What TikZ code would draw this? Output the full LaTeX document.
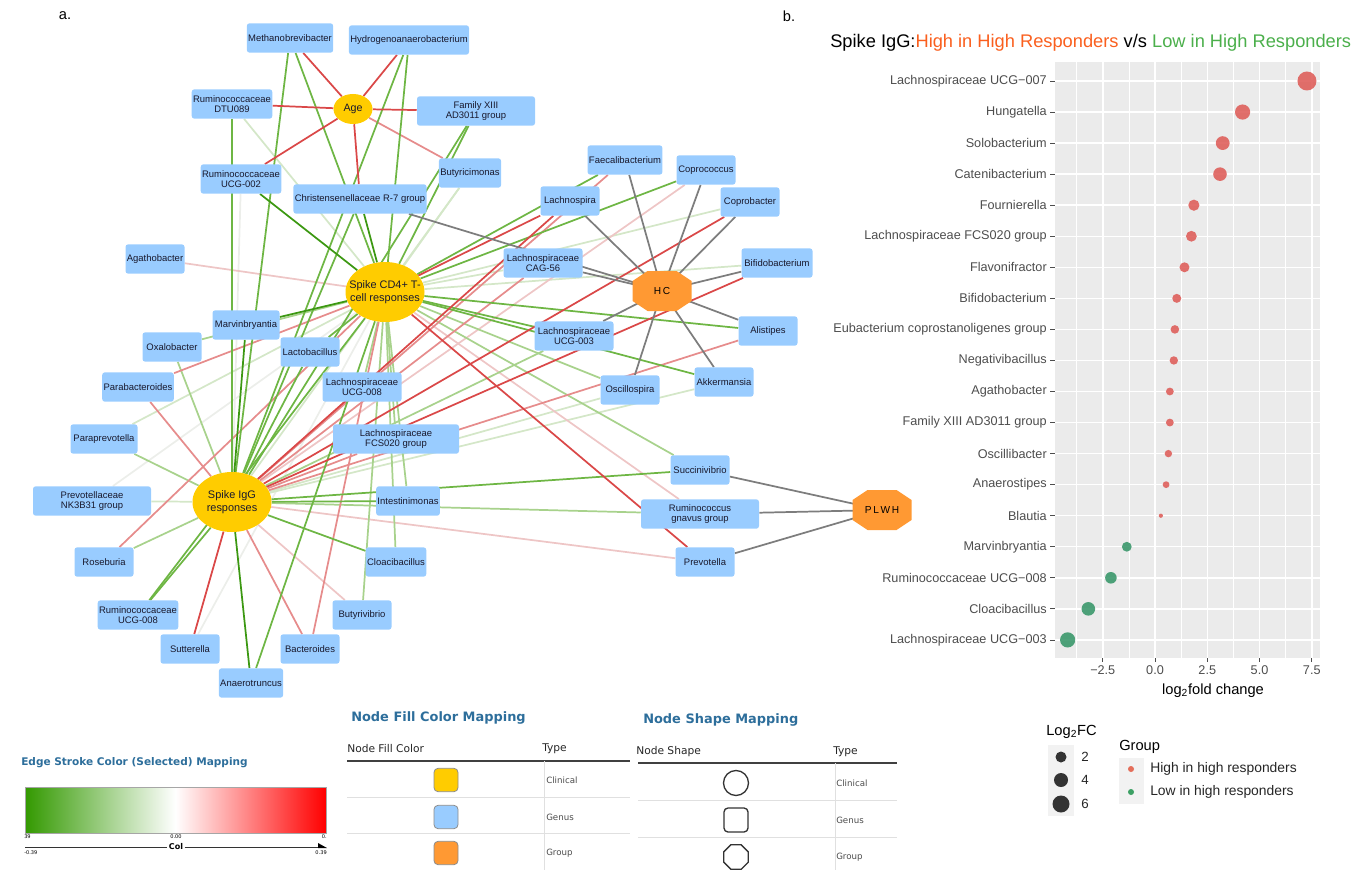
\documentclass[tikz,border=0pt]{standalone}
\usepackage{fontspec}
\setmainfont{Liberation Sans}
\newfontfamily\dvs{DejaVu Sans}
\usetikzlibrary{shapes.geometric,backgrounds}

\definecolor{genusblue}{RGB}{153,204,255}
\definecolor{clinyel}{RGB}{255,204,0}
\definecolor{grporange}{RGB}{255,153,51}
\definecolor{cg3}{RGB}{60,152,18}
\definecolor{cg2}{RGB}{110,182,68}
\definecolor{cg1}{RGB}{168,210,140}
\definecolor{cg0}{RGB}{212,231,200}
\definecolor{cw}{RGB}{236,238,234}
\definecolor{cr0}{RGB}{238,198,198}
\definecolor{cr1}{RGB}{230,140,140}
\definecolor{cr2}{RGB}{218,72,72}
\definecolor{cgray}{RGB}{125,125,125}
\definecolor{labtext}{RGB}{25,25,45}
\definecolor{axgray}{RGB}{77,77,77}
\definecolor{panelgray}{RGB}{235,235,235}
\definecolor{keygray}{RGB}{242,242,242}
\definecolor{dotred}{RGB}{222,92,88}
\definecolor{dotgreen}{RGB}{55,150,105}
\definecolor{legred}{RGB}{228,110,90}
\definecolor{leggreen}{RGB}{60,160,100}
\definecolor{titleorange}{RGB}{250,95,30}
\definecolor{titlegreen}{RGB}{75,175,75}
\definecolor{legblue}{RGB}{45,110,155}
\definecolor{barleft}{RGB}{51,153,0}
\definecolor{barright}{RGB}{255,0,0}
\definecolor{dkdot}{RGB}{51,51,51}

\newcommand\octfill[2]{\fill[grporange] ({#1-14.5},{#2-20}) -- ({#1+14.5},{#2-20}) -- ({#1+29.5},{#2-10}) -- ({#1+29.5},{#2+10}) -- ({#1+14.5},{#2+20}) -- ({#1-14.5},{#2+20}) -- ({#1-29.5},{#2+10}) -- ({#1-29.5},{#2-10}) -- cycle;}

\begin{document}
\begin{tikzpicture}[x=0.75pt,y=-0.75pt,
 genus/.style={rectangle, rounded corners=2pt, fill=genusblue, minimum height=22pt, inner xsep=1pt, inner ysep=1pt, align=center, text=labtext, font=\fontsize{7.1}{8}\selectfont},
 clin/.style={ellipse, fill=clinyel, inner sep=0pt},
 clintext/.style={align=center, inner sep=0pt, text=labtext, font=\fontsize{8.2}{9.8}\selectfont},
 grptext/.style={inner sep=0pt, text=black, font=\fontsize{7.6}{9}\selectfont},
 edgebase/.style={line width=1.3pt},
 ew/.style={edgebase, draw=cw},
 eg0/.style={edgebase, draw=cg0},
 eg1/.style={edgebase, draw=cg1},
 eg2/.style={edgebase, draw=cg2},
 eg3/.style={edgebase, draw=cg3},
 er0/.style={edgebase, draw=cr0},
 er1/.style={edgebase, draw=cr1},
 er2/.style={edgebase, draw=cr2},
 egray/.style={edgebase, draw=cgray},
 ylab/.style={anchor=east, text=axgray, inner sep=0pt, font=\fontsize{9.5}{11}\selectfont},
 xlab/.style={text=axgray, inner sep=0pt, font=\fontsize{9.5}{11}\selectfont},
 legt/.style={anchor=west, inner sep=0pt, text=legblue, font=\dvs\bfseries\fontsize{9.7}{11}\selectfont},
 thead/.style={anchor=west, inner sep=0pt, text=black!85, font=\dvs\fontsize{8}{9}\selectfont},
 trow/.style={anchor=west, inner sep=0pt, text=black!70, font=\dvs\fontsize{6.5}{8}\selectfont},
 swatch/.style={rectangle, rounded corners=3pt, minimum width=18pt, minimum height=17.5pt, draw=black!45, line width=0.6pt},
 shapekey/.style={draw=black!80, line width=1pt, fill=white, inner sep=0pt}
]
\useasboundingbox (0,0) rectangle (1362,870);

% panel labels
\node[font=\fontsize{11}{13}\selectfont] (pa) at (65,16) {a.};
\node[font=\fontsize{11}{13}\selectfont] (pb) at (789,16) {b.};

% ---------------- network nodes ----------------
\foreach \nm/\xx/\yy/\ww/\txt in {
meth/290/38/64.5/Methanobrevibacter,
hydro/409/40/87.75/Hydrogenoanaerobacterium,
dtu/232/104/59.25/Ruminococcaceae\\DTU089,
fam/476/111/88.5/Family XIII\\AD3011 group,
ucgb/241/179/59.25/Ruminococcaceae\\UCG-002,
chris/360/199/95.25/Christensenellaceae R-7 group,
butyri/470/173/44.25/Butyricimonas,
faec/625/160/53.25/Faecalibacterium,
copro/706/170/44.25/Coprococcus,
lachno/570/201/44.25/Lachnospira,
coprob/750/202/44.25/Coprobacter,
agatho/155/259/44.25/Agathobacter,
cag/543/263/59.25/Lachnospiraceae\\CAG-56,
bifido/777/263/53.25/Bifidobacterium,
marvin/246/325/50.25/Marvinbryantia,
oxalo/172/347/44.25/Oxalobacter,
lacto/310/352/44.25/Lactobacillus,
alis/768/331/44.25/Alistipes,
ucgc/574/336/59.25/Lachnospiraceae\\UCG-003,
parab/138/387/50.25/Parabacteroides,
lucg/362/387/59.25/Lachnospiraceae\\UCG-008,
oscil/630/390/44.25/Oscillospira,
akker/724/382/44.25/Akkermansia,
parap/104/439/50.25/Paraprevotella,
fcs/396/439/94.5/Lachnospiraceae\\FCS020 group,
nk/92/501/88.5/Prevotellaceae\\NK3B31 group,
intest/408/501/47.25/Intestinimonas,
succ/700/470/44.25/Succinivibrio,
rgnav/700/514/88.5/Ruminococcus\\gnavus group,
prevo/705/562/44.25/Prevotella,
rose/104/562/44.25/Roseburia,
cloac/396/562/44.25/Cloacibacillus,
rucg/138/615/59.25/Ruminococcaceae\\UCG-008,
butyriv/362/615/44.25/Butyrivibrio,
sutt/190/649/44.25/Sutterella,
bact/310/649/44.25/Bacteroides,
anaero/251/683/47.25/Anaerotruncus}
 {\node[genus, minimum width=\ww pt] (\nm) at (\xx,\yy) {\txt};}

% clinical nodes
\node[clin, minimum width=29.25pt, minimum height=22.5pt] (age) at (353,109) {};
\node[clintext, font=\fontsize{8}{9}\selectfont] (aget) at (353,109) {Age};
\node[clin, minimum width=59.25pt, minimum height=45pt] (cd4) at (385,292) {};
\node[clintext] (cd4t) at (385,292) {Spike CD4+ T-\\cell responses};
\node[clin, minimum width=59.25pt, minimum height=45pt] (igg) at (232,502) {};
\node[clintext] (iggt) at (232,502) {Spike IgG\\responses};

% group nodes
\octfill{662}{291}
\node[grptext] (hc) at (662,291) {H\,C};
\octfill{882}{510}
\node[grptext] (plwh) at (882,510) {P\,L\,W\,H};

% ---------------- edges ----------------
\begin{scope}[on background layer]
\foreach \a/\b in {cd4/nk, cd4/sutt, igg/ucgb} \draw[ew] (\a) -- (\b);
\foreach \a/\b in {cd4/butyri, cd4/dtu, cd4/coprob, cd4/cag, cd4/bifido, cd4/parap, igg/butyri, igg/nk, igg/akker, igg/oscil} \draw[eg0] (\a) -- (\b);
\foreach \a/\b in {cd4/agatho, cd4/rgnav, igg/butyriv, igg/copro, igg/prevo} \draw[er0] (\a) -- (\b);
\foreach \a/\b in {cd4/oxalo, cd4/oscil, cd4/succ, cd4/butyriv, cd4/cloac, cd4/intest, cd4/fcs, cd4/lucg, igg/oxalo, igg/parap, igg/rose, igg/ucgc, igg/rgnav} \draw[eg1] (\a) -- (\b);
\foreach \a/\b in {age/butyri, cd4/parab, cd4/rose, cd4/bact, igg/parab, igg/bact, igg/fcs, igg/lucg, igg/faec, igg/cag, igg/alis} \draw[er1] (\a) -- (\b);
\foreach \a/\b in {cd4/meth, cd4/hydro, cd4/fam, cd4/faec, cd4/copro, cd4/alis, cd4/ucgc, cd4/akker, cd4/rucg, cd4/anaero, cd4/lacto, igg/meth, igg/hydro, igg/fam, igg/dtu, igg/chris, igg/rucg, igg/cloac, igg/intest, igg/lacto, igg/succ} \draw[eg2] (\a) -- (\b);
\foreach \a/\b in {age/meth, age/hydro, age/dtu, age/fam, age/ucgb, age/chris, cd4/lachno, cd4/prevo, igg/sutt, igg/lachno, igg/coprob, igg/bifido} \draw[er2] (\a) -- (\b);
\foreach \a/\b in {cd4/ucgb, cd4/chris, cd4/marvin, igg/marvin, igg/anaero} \draw[eg3] (\a) -- (\b);
\foreach \a/\b in {hc/faec, hc/copro, hc/coprob, hc/lachno, hc/cag, hc/chris, hc/bifido, hc/alis, hc/akker, hc/oscil, hc/ucgc, plwh/succ, plwh/rgnav, plwh/prevo} \draw[egray] (\a.center) -- (\b);
\end{scope}

% ---------------- dot plot (b) ----------------
\node[anchor=west, inner sep=0pt, font=\fontsize{13.7}{16}\selectfont] (btitle) at (830,43) {Spike IgG:\textcolor{titleorange}{High in High Responders} v/s \textcolor{titlegreen}{Low in High Responders}};
\fill[panelgray] (1055,62) rectangle (1320,658);
\foreach \vv in {-3.75,-1.25,1.25,3.75,6.25}
 \draw[white, line width=0.5pt] ({1155+20.9*\vv},62) -- ({1155+20.9*\vv},658);
\foreach \vv/\lab in {-2.5/−2.5, 0/0.0, 2.5/2.5, 5/5.0, 7.5/7.5} {
 \draw[white, line width=1.1pt] ({1155+20.9*\vv},62) -- ({1155+20.9*\vv},658);
 \draw[axgray, line width=0.6pt] ({1155+20.9*\vv},658) -- ({1155+20.9*\vv},662);
 \node[xlab] at ({1155+20.9*\vv},670) {\lab};
}
\foreach \ii in {0,...,18}
 \draw[white, line width=1.1pt] (1055,{81+31.05*\ii}) -- (1320,{81+31.05*\ii});
\foreach \ii/\lab/\vv/\rr/\cc in {
0/Lachnospiraceae UCG−007/7.27/9.5/dotred,
1/Hungatella/4.19/7.6/dotred,
2/Solobacterium/3.24/6.9/dotred,
3/Catenibacterium/3.11/6.8/dotred,
4/Fournierella/1.86/5.6/dotred,
5/Lachnospiraceae FCS020 group/1.74/5.4/dotred,
6/Flavonifractor/1.41/5.0/dotred,
7/Bifidobacterium/1.04/4.5/dotred,
8/Eubacterium coprostanoligenes group/0.95/4.3/dotred,
9/Negativibacillus/0.90/4.2/dotred,
10/Agathobacter/0.71/3.9/dotred,
11/Family XIII AD3011 group/0.71/3.9/dotred,
12/Oscillibacter/0.64/3.7/dotred,
13/Anaerostipes/0.53/3.4/dotred,
14/Blautia/0.28/2.1/dotred,
15/Marvinbryantia/-1.35/4.9/dotgreen,
16/Ruminococcaceae UCG−008/-2.11/5.8/dotgreen,
17/Cloacibacillus/-3.19/6.8/dotgreen,
18/Lachnospiraceae UCG−003/-4.18/7.6/dotgreen} {
 \node[ylab] at (1047,{81+31.05*\ii}) {\lab};
 \draw[axgray, line width=0.6pt] (1050,{81+31.05*\ii}) -- (1055,{81+31.05*\ii});
 \fill[\cc, opacity=0.88] ({1155+20.9*\vv},{81+31.05*\ii}) circle[radius=\rr];
}
\node[inner sep=0pt, font=\fontsize{11}{13}\selectfont] (xtitle) at (1213,691) {log\textsubscript{2}fold change};

% dot plot legends
\node[anchor=west, inner sep=0pt, font=\fontsize{11}{13}\selectfont] (lfct) at (1046,732) {Log\textsubscript{2}FC};
\fill[keygray] (1048,745) rectangle (1074,816);
\fill[dkdot] (1061,757) circle[radius=5.5];
\fill[dkdot] (1061,780) circle[radius=7];
\fill[dkdot] (1061,804) circle[radius=8.5];
\node[inner sep=0pt, font=\fontsize{10}{12}\selectfont, text=black!85] (l2) at (1085,757) {2};
\node[inner sep=0pt, font=\fontsize{10}{12}\selectfont, text=black!85] (l4) at (1085,780) {4};
\node[inner sep=0pt, font=\fontsize{10}{12}\selectfont, text=black!85] (l6) at (1085,804) {6};
\node[anchor=west, inner sep=0pt, font=\fontsize{11}{13}\selectfont] (gtitle) at (1119,747) {Group};
\fill[keygray] (1119,758) rectangle (1144,804);
\fill[legred] (1131,769) circle[radius=3];
\fill[leggreen] (1131,792) circle[radius=3];
\node[anchor=west, inner sep=0pt, font=\fontsize{10.4}{12}\selectfont, text=black!85] (ghigh) at (1150,769) {High in high responders};
\node[anchor=west, inner sep=0pt, font=\fontsize{10.4}{12}\selectfont, text=black!85] (glow) at (1150,792) {Low in high responders};

% ---------------- Cytoscape legends ----------------
\node[legt, font=\dvs\bfseries\fontsize{7.9}{9}\selectfont] (edgetitle) at (21,763) {Edge Stroke Color (Selected) Mapping};
\shade[left color=barleft, right color=barright, middle color=white] (25,787) rectangle (326,833);
\draw[black!35, line width=0.6pt] (25,787) rectangle (326,833);
\node[anchor=west, inner sep=0pt, font=\dvs\fontsize{3.8}{4}\selectfont] (c39) at (24,837) {39};
\node[inner sep=0pt, font=\dvs\fontsize{3.8}{4}\selectfont] (c00) at (176,837) {0.00};
\node[anchor=east, inner sep=0pt, font=\dvs\fontsize{3.8}{4}\selectfont] (c0) at (327,837) {0.};
\node[inner sep=1pt, font=\dvs\bfseries\fontsize{6}{7}\selectfont] (colt) at (176,847) {Col};
\draw[black!80, line width=0.5pt] (25,847) -- (colt.west);
\draw[black!80, line width=0.5pt] (colt.east) -- (320,847);
\fill[black] (318,843) -- (327,848) -- (318,848) -- cycle;
\node[anchor=west, inner sep=0pt, font=\dvs\fontsize{3.8}{4}\selectfont] (cm39) at (24,853) {-0.39};
\node[anchor=east, inner sep=0pt, font=\dvs\fontsize{3.8}{4}\selectfont] (cp39) at (327,853) {0.39};

% fill colour table
\node[legt] (filltitle) at (351,718) {Node Fill Color Mapping};
\node[thead] (fh1) at (347,749) {Node Fill Color};
\node[thead] (fh2) at (542,749) {Type};
\draw[black!75, line width=0.9pt] (347,761) -- (630,761);
\draw[black!12, line width=0.6pt] (347,797) -- (630,797);
\draw[black!12, line width=0.6pt] (347,833) -- (630,833);
\draw[black!12, line width=0.6pt] (544,761) -- (544,870);
\node[swatch, fill=clinyel] (sw1) at (446,780) {};
\node[swatch, fill=genusblue] (sw2) at (446,817) {};
\node[swatch, fill=grporange] (sw3) at (446,853) {};
\node[trow] (fr1) at (546,780) {Clinical};
\node[trow] (fr2) at (546,817) {Genus};
\node[trow] (fr3) at (546,853) {Group};

% shape table
\node[legt] (shapetitle) at (643,720) {Node Shape Mapping};
\node[thead] (sh1) at (636,752) {Node Shape};
\node[thead] (sh2) at (833,752) {Type};
\draw[black!75, line width=0.9pt] (638,763) -- (897,763);
\draw[black!12, line width=0.6pt] (638,800) -- (897,800);
\draw[black!12, line width=0.6pt] (638,837) -- (897,837);
\draw[black!12, line width=0.6pt] (835,763) -- (835,870);
\node[shapekey, circle, minimum size=18.75pt] (kc) at (736,783) {};
\node[shapekey, rectangle, rounded corners=3pt, minimum size=18pt] (ks) at (736,820) {};
\node[shapekey, regular polygon, regular polygon sides=8, minimum size=20pt] (ko) at (736,857) {};
\node[trow] (sr1) at (836,783) {Clinical};
\node[trow] (sr2) at (836,820) {Genus};
\node[trow] (sr3) at (836,857) {Group};
\end{tikzpicture}
\end{document}
